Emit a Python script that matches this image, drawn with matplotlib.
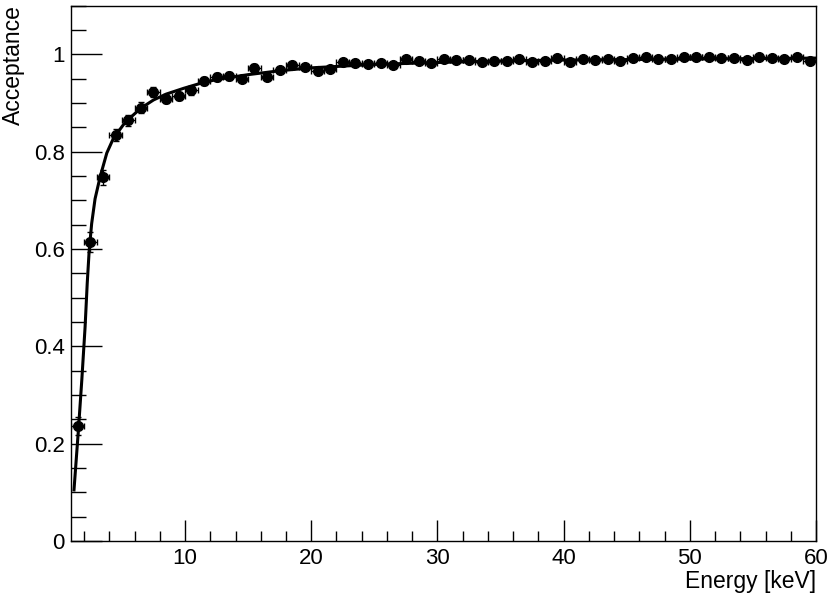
import numpy as np
import matplotlib
matplotlib.use("Agg")
import matplotlib.pyplot as plt
from matplotlib.ticker import MultipleLocator, FuncFormatter

plt.rcParams['font.family'] = ['Liberation Sans', 'DejaVu Sans']

# bin centres (1 keV bins) and measured acceptance
energy = np.arange(1.5, 60.0, 1.0)
acceptance = [0.236, 0.614, 0.747, 0.834, 0.864, 0.890, 0.923, 0.909, 0.914, 0.926,
              0.945, 0.953, 0.955, 0.949, 0.972, 0.953, 0.967, 0.977, 0.973, 0.965,
              0.969, 0.984, 0.981, 0.979, 0.981, 0.977, 0.990, 0.986, 0.981, 0.990,
              0.988, 0.989, 0.984, 0.986, 0.986, 0.991, 0.984, 0.987, 0.992, 0.984,
              0.990, 0.989, 0.991, 0.987, 0.993, 0.994, 0.991, 0.991, 0.995, 0.994,
              0.994, 0.992, 0.992, 0.989, 0.994, 0.993, 0.990, 0.995, 0.987]
acc_err = [0.018, 0.020, 0.016, 0.013, 0.012, 0.011, 0.010, 0.010, 0.009, 0.009,
           0.008, 0.008, 0.008, 0.007, 0.007, 0.007, 0.006, 0.006, 0.006, 0.006] + [0.005] * 39
energy_err = 0.5

# fit curve
fit_x = [1.2, 1.55, 1.82, 2.08, 2.25, 2.4, 2.6, 2.87, 3.27, 3.8, 4.32, 5.11, 5.5,
         6.5, 7.5, 8.5, 9.9, 11.2, 12.5, 15.0, 17.5, 20.0, 25.0, 30.0, 35.0, 40.0,
         45.0, 50.0, 55.0, 60.0]
fit_y = [0.105, 0.228, 0.331, 0.44, 0.53, 0.595, 0.652, 0.703, 0.748, 0.797, 0.827,
         0.855, 0.866, 0.889, 0.906, 0.918, 0.930, 0.940, 0.948, 0.958, 0.966, 0.972,
         0.979, 0.983, 0.986, 0.988, 0.989, 0.990, 0.991, 0.992]

fig = plt.figure(figsize=(8.31, 6.0), dpi=100)
ax = fig.add_axes([0.086, 0.0983, 0.896, 0.8925])

ax.errorbar(energy, acceptance, xerr=energy_err, yerr=acc_err, fmt='o', color='black',
            markersize=7, elinewidth=1.0, capsize=2.0, capthick=1.0, zorder=3)
ax.plot(fit_x, fit_y, color='black', linewidth=2.2, zorder=4)

ax.set_xlim(1, 60)
ax.set_ylim(0, 1.1)

ax.xaxis.set_major_locator(MultipleLocator(10))
ax.xaxis.set_minor_locator(MultipleLocator(2))
ax.yaxis.set_major_locator(MultipleLocator(0.2))
ax.yaxis.set_minor_locator(MultipleLocator(0.05))
ax.yaxis.set_major_formatter(FuncFormatter(lambda v, p: '%g' % round(v, 2)))

ax.tick_params(axis='x', which='major', direction='in', length=15, width=1, labelsize=16, pad=5)
ax.tick_params(axis='x', which='minor', direction='in', length=7, width=1)
ax.tick_params(axis='y', which='major', direction='in', length=22, width=1, labelsize=16, pad=5)
ax.tick_params(axis='y', which='minor', direction='in', length=11, width=1)
ax.tick_params(top=False, right=False)

for s in ax.spines.values():
    s.set_linewidth(1.0)

ax.set_xlabel('Energy [keV]', fontsize=16.5, loc='right', labelpad=1)
ax.set_ylabel('Acceptance', fontsize=16.5, loc='top', labelpad=6)

fig.savefig('out.png', dpi=100)
